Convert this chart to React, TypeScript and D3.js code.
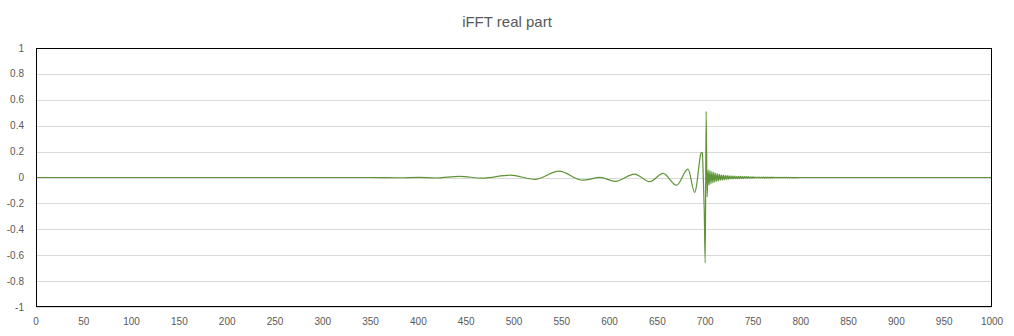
import React from "react";
import * as d3 from "d3";

// ---- data ----
const title = "iFFT real part";

const xTickValues = [0, 50, 100, 150, 200, 250, 300, 350, 400, 450, 500, 550, 600, 650, 700, 750, 800, 850, 900, 950, 1000];
const yTickValues = [-1, -0.8, -0.6, -0.4, -0.2, 0, 0.2, 0.4, 0.6, 0.8, 1];

// smooth part of the signal (key samples)
const waveX = [0, 350, 380, 400, 418, 443, 467, 496, 522, 547, 572, 590, 606, 626, 642, 656, 670, 682, 689, 691, 693, 695, 696, 697, 698, 699, 700, 701, 702];
const waveY = [0, 0, -0.002, 0.001, -0.004, 0.009, -0.005, 0.018, -0.014, 0.049, -0.021, 0.001, -0.03, 0.026, -0.032, 0.032, -0.06, 0.064, -0.115, -0.06, 0.06, 0.17, 0.195, 0.19, 0.0, -0.25, -0.66, 0.51, -0.15];

// ringing after the main spike, one value per sample starting at ringStart
const ringStart = 703;
const ringValues = [
  0.06, -0.06, 0.055, -0.05, 0.045, -0.042, 0.04, -0.036, 0.033, -0.03,
  0.028, -0.026, 0.024, -0.022, 0.021, -0.02, 0.018, -0.017, 0.016, -0.015,
  0.014, -0.014, 0.013, -0.012, 0.012, -0.011, 0.011, -0.01, 0.01, -0.009,
  0.009, -0.009, 0.008, -0.008, 0.008, -0.007, 0.007, -0.007, 0.006, -0.006,
  0.006, -0.006, 0.006, -0.005, 0.005, -0.005, 0.005, -0.005, 0.005, -0.004,
  0.004, -0.004, 0.004, -0.004, 0.004, -0.004, 0.004, -0.003, 0.003, -0.003,
  0.003, -0.003, 0.003, -0.003, 0.003, -0.003, 0.003, -0.003, 0.003, -0.002,
  0.002, -0.002, 0.002, -0.002, 0.002, -0.002, 0.002, -0.002, 0.002, -0.002,
  0.002, -0.002, 0.002, -0.002, 0.001, -0.001, 0.001, -0.001,
];

// flat tail
const tailX = [800, 1000];
const tailY = [0, 0];

// ---- chart ----
const W = 1014;
const H = 336;
const plot = { left: 36, right: 992, top: 48, bottom: 307 };

export default function App() {
  const x = d3.scaleLinear().domain([0, 1000]).range([plot.left, plot.right]);
  const y = d3.scaleLinear().domain([-1, 1]).range([plot.bottom, plot.top]);

  const pts: [number, number][] = [];
  waveX.forEach((v, i) => pts.push([v, waveY[i]]));
  ringValues.forEach((v, i) => pts.push([ringStart + i, v]));
  tailX.forEach((v, i) => pts.push([v, tailY[i]]));

  const line = d3
    .line<[number, number]>()
    .x((d) => x(d[0]))
    .y((d) => y(d[1]))
    .curve(d3.curveMonotoneX);

  const textColor = "#595959";
  const font = "'Liberation Sans', Arial, sans-serif";

  return (
    <svg
      width={W}
      height={H}
      style={{ position: "absolute", left: 0, top: 0, display: "block", background: "#fff" }}
    >
      <rect x={0} y={0} width={W} height={H} fill="#fff" />
      <text
        x={507}
        y={26.5}
        textAnchor="middle"
        fontFamily={font}
        fontSize={15}
        fill={textColor}
      >
        {title}
      </text>

      {/* gridlines */}
      {yTickValues.map((t) => (
        <line
          key={"g" + t}
          x1={plot.left}
          x2={plot.right}
          y1={Math.round(y(t)) + 0.5}
          y2={Math.round(y(t)) + 0.5}
          stroke="#d9d9d9"
          strokeWidth={1}
        />
      ))}

      {/* y labels */}
      {yTickValues.map((t) => (
        <text
          key={"yl" + t}
          x={24}
          y={y(t)}
          dy="0.35em"
          textAnchor="end"
          fontFamily={font}
          fontSize={10}
          fill={textColor}
        >
          {String(Math.round(t * 10) / 10)}
        </text>
      ))}

      {/* x labels */}
      {xTickValues.map((t) => (
        <text
          key={"xl" + t}
          x={x(t)}
          y={325}
          textAnchor="middle"
          fontFamily={font}
          fontSize={10}
          fill={textColor}
        >
          {String(t)}
        </text>
      ))}

      {/* series */}
      <path d={line(pts) || ""} fill="none" stroke="#5e9437" strokeWidth={1.2} strokeLinejoin="round" />

      {/* plot border */}
      <rect
        x={plot.left + 0.5}
        y={plot.top + 0.5}
        width={plot.right - plot.left - 1}
        height={plot.bottom - plot.top - 1}
        fill="none"
        stroke="#000"
        strokeWidth={1}
      />
    </svg>
  );
}
